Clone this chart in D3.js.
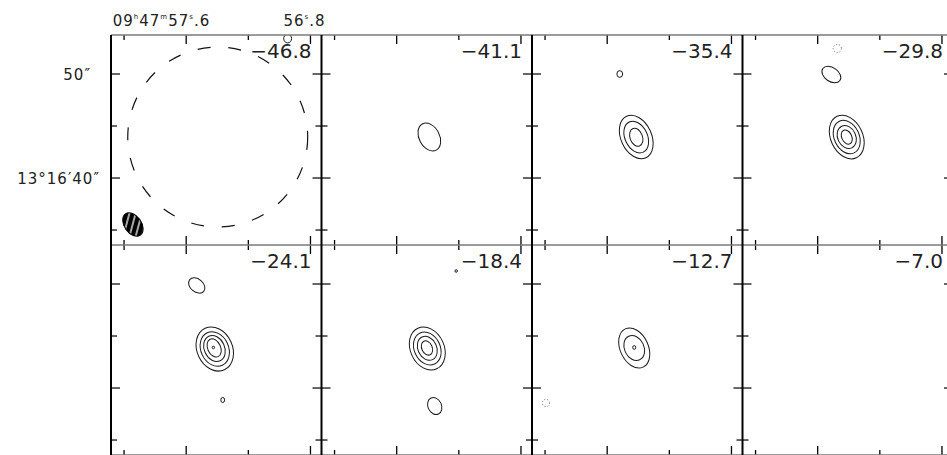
<!DOCTYPE html>
<html>
<head>
<meta charset="utf-8">
<script src="https://cdn.jsdelivr.net/npm/d3@7"></script>
<style>
  body { margin: 0; background: #fff; }
  svg { display: block; }
  text { font-family: "DejaVu Sans", sans-serif; fill: #222; }
</style>
</head>
<body>
<svg id="chart" width="947" height="455"></svg>
<script>
// channel velocities (km/s), one per panel
const velocities = ["\u221246.8", "\u221241.1", "\u221235.4", "\u221229.8",
                    "\u221224.1", "\u221218.4", "\u221212.7", "\u22127.0"];

// RA seconds (09h47m..s) and Dec arcsec (13d16'..") of the panel window
const raRange = [58.084, 56.729];
const decRange = [33.56, 53.75];

const raTicks = [58.0, 57.6, 57.2, 56.8];
const raMajor = [57.6, 56.8];
const decTicks = [35, 40, 45, 50];
const decMajor = [40, 50];

// contours: panel index, RA (s), Dec ("), semi-minor / semi-major axis ("), tilt (deg)
const contours = [
  { p: 0, ra: 56.947, dec: 53.41, a: 0.38, b: 0.42, ang: 0 },

  { p: 1, ra: 57.390, dec: 43.94, a: 0.98, b: 1.42, ang: 28 },

  { p: 2, ra: 57.413, dec: 43.94, a: 1.47, b: 2.20, ang: 25 },
  { p: 2, ra: 57.413, dec: 43.94, a: 1.08, b: 1.60, ang: 25 },
  { p: 2, ra: 57.413, dec: 43.92, a: 0.60, b: 0.90, ang: 20 },
  { p: 2, ra: 57.519, dec: 50.00, a: 0.28, b: 0.32, ang: 0 },

  { p: 3, ra: 57.413, dec: 43.94, a: 1.54, b: 2.20, ang: 25 },
  { p: 3, ra: 57.413, dec: 43.94, a: 1.20, b: 1.68, ang: 25 },
  { p: 3, ra: 57.413, dec: 43.94, a: 0.87, b: 1.15, ang: 25 },
  { p: 3, ra: 57.413, dec: 43.94, a: 0.48, b: 0.72, ang: 25 },
  { p: 3, ra: 57.512, dec: 49.95, a: 0.67, b: 1.00, ang: 55 },
  { p: 3, ra: 57.474, dec: 52.45, a: 0.40, b: 0.40, ang: 0, dotted: true },

  { p: 4, ra: 57.416, dec: 43.75, a: 1.70, b: 2.20, ang: 25 },
  { p: 4, ra: 57.416, dec: 43.75, a: 1.33, b: 1.72, ang: 25 },
  { p: 4, ra: 57.418, dec: 43.80, a: 0.98, b: 1.30, ang: 25 },
  { p: 4, ra: 57.420, dec: 43.85, a: 0.62, b: 0.92, ang: 25 },
  { p: 4, ra: 57.425, dec: 43.90, a: 0.12, b: 0.12, ang: 0 },
  { p: 4, ra: 57.532, dec: 49.86, a: 0.62, b: 0.88, ang: 50 },
  { p: 4, ra: 57.365, dec: 38.85, a: 0.18, b: 0.25, ang: 0 },

  { p: 5, ra: 57.403, dec: 43.80, a: 1.62, b: 2.15, ang: 25 },
  { p: 5, ra: 57.403, dec: 43.80, a: 1.25, b: 1.65, ang: 25 },
  { p: 5, ra: 57.403, dec: 43.82, a: 0.90, b: 1.20, ang: 25 },
  { p: 5, ra: 57.405, dec: 43.85, a: 0.50, b: 0.72, ang: 25 },
  { p: 5, ra: 57.355, dec: 38.27, a: 0.65, b: 0.85, ang: 25 },
  { p: 5, ra: 57.217, dec: 51.25, a: 0.12, b: 0.12, ang: 0 },

  { p: 6, ra: 57.426, dec: 43.85, a: 1.35, b: 2.03, ang: 25 },
  { p: 6, ra: 57.426, dec: 43.85, a: 0.94, b: 1.25, ang: 25 },
  { p: 6, ra: 57.426, dec: 43.90, a: 0.15, b: 0.18, ang: 0 },
  { p: 6, ra: 57.994, dec: 38.56, a: 0.35, b: 0.35, ang: 0, dotted: true }
];

// primary beam and synthesized beam (first panel)
const primaryBeam = { ra: 57.397, dec: 43.94, r: 8.65 };
const synthBeam = { ra: 57.943, dec: 35.53, a: 0.82, b: 1.25, ang: 35 };

const leftX = 111, topY = 35, panelW = 210.5, panelH = 210;

const svg = d3.select("#chart");
svg.append("rect").attr("width", 947).attr("height", 455).attr("fill", "#fff");

const defs = svg.append("defs");
const hatch = defs.append("pattern")
    .attr("id", "hatch")
    .attr("patternUnits", "userSpaceOnUse")
    .attr("width", 6).attr("height", 6)
    .attr("patternTransform", "rotate(-40)");
hatch.append("rect").attr("width", 6).attr("height", 6).attr("fill", "#000");
hatch.append("line").attr("x1", 0).attr("x2", 6).attr("y1", 3).attr("y2", 3)
    .attr("stroke", "#fff").attr("stroke-width", 1.3);

defs.append("clipPath").attr("id", "panelClip")
    .append("rect").attr("width", panelW).attr("height", panelH);

const x = d3.scaleLinear().domain(raRange).range([0, panelW]);
const y = d3.scaleLinear().domain(decRange).range([panelH, 0]);
const arc = v => y(decRange[0]) - y(decRange[0] + v);   // arcsec -> px

velocities.forEach(function (vel, i) {
    const col = i % 4, row = Math.floor(i / 4);
    const g = svg.append("g")
        .attr("transform", `translate(${leftX + col * panelW},${topY + row * panelH})`);

    const inner = g.append("g").attr("clip-path", "url(#panelClip)");

    if (i === 0) {
        inner.append("circle")
            .attr("cx", x(primaryBeam.ra)).attr("cy", y(primaryBeam.dec))
            .attr("r", arc(primaryBeam.r))
            .attr("fill", "none").attr("stroke", "#111")
            .attr("stroke-width", 1.2).attr("stroke-dasharray", "13,18");
        const bx = x(synthBeam.ra), by = y(synthBeam.dec);
        inner.append("ellipse")
            .attr("cx", bx).attr("cy", by)
            .attr("rx", arc(synthBeam.a)).attr("ry", arc(synthBeam.b))
            .attr("transform", `rotate(${-synthBeam.ang},${bx},${by})`)
            .attr("fill", "url(#hatch)").attr("stroke", "#000").attr("stroke-width", 1);
    }

    contours.filter(c => c.p === i).forEach(function (c) {
        const cx = x(c.ra), cy = y(c.dec);
        inner.append("ellipse")
            .attr("cx", cx).attr("cy", cy)
            .attr("rx", arc(c.a)).attr("ry", arc(c.b))
            .attr("transform", `rotate(${-c.ang},${cx},${cy})`)
            .attr("fill", "none")
            .attr("stroke", c.dotted ? "#666" : "#1a1a1a")
            .attr("stroke-width", 1)
            .attr("stroke-dasharray", c.dotted ? "1,2" : null);
    });

    // ticks on all four sides, pointing inward
    raTicks.forEach(function (t) {
        const len = raMajor.includes(t) ? 9 : 5;
        g.append("line").attr("x1", x(t)).attr("x2", x(t)).attr("y1", 0).attr("y2", len)
            .attr("stroke", "#000").attr("stroke-width", 1.3);
        g.append("line").attr("x1", x(t)).attr("x2", x(t)).attr("y1", panelH).attr("y2", panelH - len)
            .attr("stroke", "#000").attr("stroke-width", 1.3);
    });
    decTicks.forEach(function (t) {
        const len = decMajor.includes(t) ? 9 : 6;
        g.append("line").attr("x1", 0).attr("x2", len).attr("y1", y(t)).attr("y2", y(t))
            .attr("stroke", "#000").attr("stroke-width", 1.2);
        g.append("line").attr("x1", panelW).attr("x2", panelW - len).attr("y1", y(t)).attr("y2", y(t))
            .attr("stroke", "#000").attr("stroke-width", 1.2);
    });

    g.append("text")
        .attr("x", panelW - 10).attr("y", 23)
        .attr("text-anchor", "end")
        .attr("font-size", 20)
        .text(vel);
});

// panel frame
d3.range(3).forEach(function (r) {
    svg.append("line")
        .attr("x1", leftX).attr("x2", leftX + 4 * panelW)
        .attr("y1", topY + r * panelH).attr("y2", topY + r * panelH)
        .attr("stroke", "#7a7a7a").attr("stroke-width", 1.5);
});
d3.range(5).forEach(function (c) {
    svg.append("line")
        .attr("x1", leftX + c * panelW).attr("x2", leftX + c * panelW)
        .attr("y1", topY).attr("y2", topY + 2 * panelH)
        .attr("stroke", "#000").attr("stroke-width", 2);
});

// coordinate labels on the first panel
function raLabel(parts, xEnd) {
    const t = svg.append("text")
        .attr("x", xEnd).attr("y", 26)
        .attr("text-anchor", "end")
        .attr("font-size", 15)
        .attr("letter-spacing", 1);
    let raised = false;
    parts.forEach(function (p) {
        if (p.sup) {
            t.append("tspan").attr("font-size", 7).attr("dy", -7).text(p.sup);
            raised = true;
        } else {
            t.append("tspan").attr("dy", raised ? 7 : null).text(p.txt);
            raised = false;
        }
    });
}
raLabel([{ txt: "09" }, { sup: "h" }, { txt: "47" }, { sup: "m" }, { txt: "57" }, { sup: "s" }, { txt: ".6" }],
        leftX + x(57.6) + 24);
raLabel([{ txt: "56" }, { sup: "s" }, { txt: ".8" }], leftX + x(56.8) + 15);

svg.append("text")
    .attr("x", 91).attr("y", topY + y(50) + 6)
    .attr("text-anchor", "end").attr("font-size", 15).attr("letter-spacing", 1)
    .text("50\u2033");
svg.append("text")
    .attr("x", 100).attr("y", topY + y(40) + 6)
    .attr("text-anchor", "end").attr("font-size", 15).attr("letter-spacing", 1)
    .text("13\u00b016\u203240\u2033");
</script>
</body>
</html>
